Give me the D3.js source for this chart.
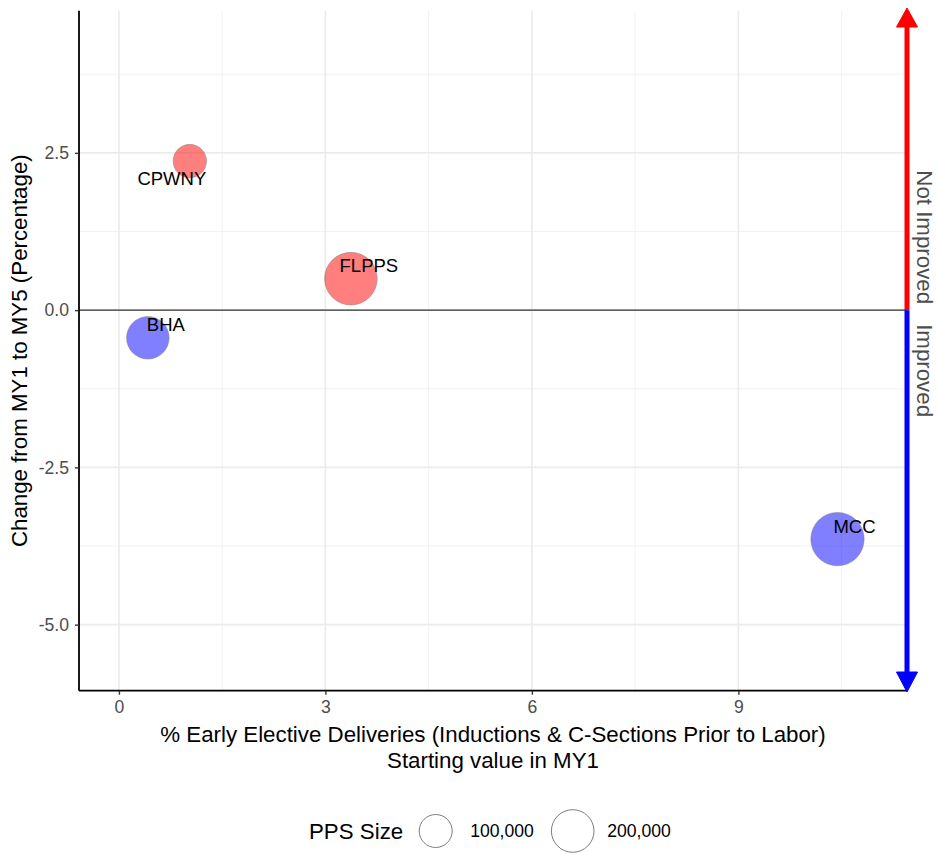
<!DOCTYPE html>
<html>
<head>
<meta charset="utf-8">
<style>
  body { margin: 0; background: #fff; }
  text { font-family: 'Liberation Sans', Arial, sans-serif; }
</style>
</head>
<body>
<script src="https://d3js.org/d3.v7.min.js"></script>
<script>
  // data
  var orgs = ['CPWNY', 'FLPPS', 'BHA', 'MCC'];
  var startVals = [1.03, 3.37, 0.42, 10.44];
  var changeVals = [2.37, 0.50, -0.44, -3.64];
  var ppsSizes = [103000, 341000, 200000, 354000];
  var xTicks = [0, 3, 6, 9];
  var yTicks = [-5, -2.5, 0, 2.5];
  var legendSizes = [100000, 200000];

  // label nudges (px) so the names sit like in the original
  var labelNudge = {
    CPWNY: [-18, 24],
    FLPPS: [18, -7],
    BHA: [18, -7],
    MCC: [17, -6]
  };

  var W = 939, H = 855;
  var panel = { left: 79, right: 907, top: 10.7, bottom: 690.7 };
  var titleSize = '22.3px';

  var svg = d3.select('body').append('svg')
    .attr('width', W)
    .attr('height', H);

  var x = d3.scaleLinear()
    .domain([-0.58, 11.45])
    .range([panel.left, panel.right]);

  var y = d3.scaleLinear()
    .domain([-6.05, 4.76])
    .range([panel.bottom, panel.top]);

  var r = d3.scaleSqrt()
    .domain([0, 400000])
    .range([4.91, 28.08]);

  var points = orgs.map(function(o, i) {
    return { name: o, x: startVals[i], y: changeVals[i], size: ppsSizes[i] };
  });

  // grid
  var xMinor = d3.range(-1.5, 12, 3).filter(function(v) { return x(v) > panel.left && x(v) < panel.right; });
  var yMinor = d3.range(-6.25, 5, 2.5).filter(function(v) { return y(v) > panel.top && y(v) < panel.bottom; });

  var grid = svg.append('g');
  grid.selectAll('.xminor').data(xMinor).join('line')
    .attr('x1', d => x(d)).attr('x2', d => x(d))
    .attr('y1', panel.top).attr('y2', panel.bottom)
    .attr('stroke', '#f2f2f2').attr('stroke-width', 1);
  grid.selectAll('.yminor').data(yMinor).join('line')
    .attr('y1', d => y(d)).attr('y2', d => y(d))
    .attr('x1', panel.left).attr('x2', panel.right)
    .attr('stroke', '#f2f2f2').attr('stroke-width', 1);
  grid.selectAll('.xmajor').data(xTicks).join('line')
    .attr('x1', d => x(d)).attr('x2', d => x(d))
    .attr('y1', panel.top).attr('y2', panel.bottom)
    .attr('stroke', '#ebebeb').attr('stroke-width', 1.6);
  grid.selectAll('.ymajor').data(yTicks).join('line')
    .attr('y1', d => y(d)).attr('y2', d => y(d))
    .attr('x1', panel.left).attr('x2', panel.right)
    .attr('stroke', '#ebebeb').attr('stroke-width', 1.6);

  // zero line
  svg.append('line')
    .attr('x1', panel.left).attr('x2', panel.right)
    .attr('y1', y(0)).attr('y2', y(0))
    .attr('stroke', '#333').attr('stroke-width', 1.4);

  // axes
  var xAxis = svg.append('g')
    .attr('transform', 'translate(0,' + panel.bottom + ')')
    .call(d3.axisBottom(x).tickValues(xTicks).tickSize(4).tickPadding(6).tickFormat(d3.format('d')));
  xAxis.select('.domain').attr('stroke', '#000').attr('stroke-width', 1.8)
    .attr('d', 'M' + panel.left + ',0H' + panel.right);
  xAxis.selectAll('.tick line').attr('stroke', '#333').attr('stroke-width', 1.4);
  xAxis.selectAll('.tick text').attr('fill', '#4d4d4d').style('font-size', '17.6px')
    .style('font-family', "'Liberation Sans', Arial, sans-serif");

  var yAxis = svg.append('g')
    .attr('transform', 'translate(' + panel.left + ',0)')
    .call(d3.axisLeft(y).tickValues(yTicks).tickSize(4).tickPadding(6)
      .tickFormat(d => d3.format('.1f')(d).replace('\u2212', '-')));
  yAxis.select('.domain').attr('stroke', '#000').attr('stroke-width', 1.8)
    .attr('d', 'M0,' + panel.top + 'V' + panel.bottom);
  yAxis.selectAll('.tick line').attr('stroke', '#333').attr('stroke-width', 1.4);
  yAxis.selectAll('.tick text').attr('fill', '#4d4d4d').style('font-size', '17.6px')
    .style('font-family', "'Liberation Sans', Arial, sans-serif");

  // improvement arrow on the right
  var ax = panel.right;
  svg.append('line')
    .attr('x1', ax).attr('x2', ax)
    .attr('y1', y(0)).attr('y2', 24)
    .attr('stroke', '#ff0000').attr('stroke-width', 5);
  svg.append('path')
    .attr('d', 'M' + (ax - 10.5) + ',27L' + ax + ',8L' + (ax + 10.5) + ',27Z')
    .attr('fill', '#ff0000').attr('stroke', '#ff0000').attr('stroke-width', 1);
  svg.append('line')
    .attr('x1', ax).attr('x2', ax)
    .attr('y1', y(0)).attr('y2', 675)
    .attr('stroke', '#0000ff').attr('stroke-width', 5);
  svg.append('path')
    .attr('d', 'M' + (ax - 10.5) + ',672L' + ax + ',692L' + (ax + 10.5) + ',672Z')
    .attr('fill', '#0000ff').attr('stroke', '#0000ff').attr('stroke-width', 1);

  svg.append('text')
    .attr('transform', 'translate(' + (ax + 10) + ',' + (y(0) - 6) + ') rotate(90)')
    .attr('text-anchor', 'end')
    .attr('fill', '#4d4d4d')
    .style('font-size', titleSize)
    .text('Not Improved');
  svg.append('text')
    .attr('transform', 'translate(' + (ax + 10) + ',' + (y(0) + 14) + ') rotate(90)')
    .attr('text-anchor', 'start')
    .attr('fill', '#4d4d4d')
    .style('font-size', titleSize)
    .text('Improved');

  // bubbles
  svg.append('g').selectAll('circle')
    .data(points)
    .join('circle')
      .attr('cx', d => x(d.x))
      .attr('cy', d => y(d.y))
      .attr('r', d => r(d.size))
      .attr('fill', d => d.y < 0 ? '#0000ff' : '#ff0000')
      .attr('fill-opacity', 0.5)
      .attr('stroke', '#7f7f7f')
      .attr('stroke-opacity', 0.6)
      .attr('stroke-width', 0.8);

  svg.append('g').selectAll('text')
    .data(points)
    .join('text')
      .attr('x', d => x(d.x) + labelNudge[d.name][0])
      .attr('y', d => y(d.y) + labelNudge[d.name][1])
      .attr('text-anchor', 'middle')
      .attr('fill', '#000')
      .style('font-size', '18.5px')
      .text(d => d.name);

  // axis titles
  svg.append('text')
    .attr('x', (panel.left + panel.right) / 2).attr('y', 742)
    .attr('text-anchor', 'middle')
    .style('font-size', titleSize)
    .text('% Early Elective Deliveries (Inductions & C-Sections Prior to Labor)');
  svg.append('text')
    .attr('x', (panel.left + panel.right) / 2).attr('y', 768)
    .attr('text-anchor', 'middle')
    .style('font-size', titleSize)
    .text('Starting value in MY1');
  svg.append('text')
    .attr('transform', 'translate(27,' + ((panel.top + panel.bottom) / 2) + ') rotate(-90)')
    .attr('text-anchor', 'middle')
    .style('font-size', titleSize)
    .text('Change from MY1 to MY5 (Percentage)');

  // size legend
  var legend = svg.append('g');
  legend.append('text')
    .attr('x', 309).attr('y', 839)
    .style('font-size', titleSize)
    .text('PPS Size');
  var legX = [435.7, 572.7];
  legend.selectAll('circle').data(legendSizes).join('circle')
    .attr('cx', (d, i) => legX[i])
    .attr('cy', 831)
    .attr('r', d => r(d))
    .attr('fill', '#fff')
    .attr('stroke', '#6e6e6e')
    .attr('stroke-width', 0.9);
  legend.selectAll('.lab').data(legendSizes).join('text')
    .attr('x', (d, i) => legX[i] + 34.5)
    .attr('y', 837)
    .style('font-size', '17.6px')
    .text(d => d3.format(',')(d));
</script>
</body>
</html>
